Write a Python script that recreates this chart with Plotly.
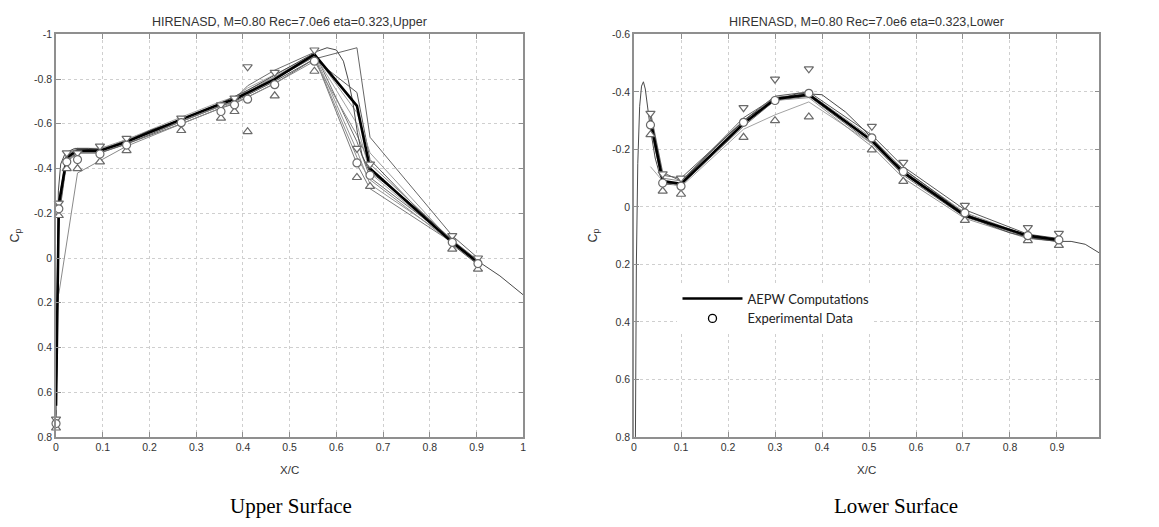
import plotly.graph_objects as go

# ---------------- Upper surface ----------------
UP_LINE_X = [0.0, 0.006, 0.023, 0.046, 0.094, 0.151, 0.268, 0.353, 0.382, 0.41, 0.468, 0.553, 0.644, 0.672, 0.848, 0.903]
UP_BLACK = [0.66, -0.24, -0.45, -0.48, -0.48, -0.52, -0.62, -0.69, -0.71, -0.74, -0.80, -0.91, -0.68, -0.40, -0.07, 0.02]
UP_G1 = [0.74, -0.20, -0.44, -0.48, -0.48, -0.52, -0.62, -0.69, -0.71, -0.74, -0.80, -0.90, -0.45, -0.35, -0.07, 0.02]
UP_G2 = [0.70, -0.22, -0.46, -0.49, -0.48, -0.53, -0.62, -0.69, -0.71, -0.77, -0.84, -0.92, -0.52, -0.36, -0.08, 0.01]
UP_G3 = [0.60, -0.25, -0.47, -0.49, -0.49, -0.53, -0.63, -0.70, -0.72, -0.76, -0.82, -0.91, -0.60, -0.38, -0.07, 0.02]
UP_G4 = [0.72, -0.18, -0.43, -0.47, -0.47, -0.51, -0.61, -0.68, -0.70, -0.73, -0.79, -0.89, -0.74, -0.44, -0.06, 0.03]
UP_G5 = [0.55, -0.26, -0.46, -0.49, -0.49, -0.52, -0.62, -0.69, -0.71, -0.75, -0.81, -0.91, -0.48, -0.33, -0.08, 0.02]
UP_G6 = [0.65, -0.21, -0.45, -0.48, -0.48, -0.52, -0.61, -0.68, -0.70, -0.74, -0.80, -0.90, -0.42, -0.31, -0.07, 0.02]
UP_G7 = [0.70, -0.20, -0.44, -0.47, -0.47, -0.51, -0.60, -0.67, -0.69, -0.72, -0.78, -0.89, -0.94, -0.54, -0.10, 0.00]
UP_G8 = [0.68, -0.23, -0.45, -0.48, -0.48, -0.52, -0.62, -0.69, -0.71, -0.74, -0.81, -0.91, -0.65, -0.47, -0.07, 0.02]

UP_LOW_X = [0.006, 0.046, 0.151, 0.268, 0.353, 0.41, 0.468, 0.553, 0.644, 0.672, 0.848, 0.903]
UP_LOW_Y = [0.16, -0.38, -0.50, -0.60, -0.67, -0.72, -0.78, -0.88, -0.55, -0.42, -0.08, 0.02]

UP_FINE_X = [0.0, 0.002, 0.005, 0.01, 0.02, 0.04, 0.07, 0.1, 0.15, 0.2, 0.27, 0.35, 0.41, 0.47, 0.53,
             0.56, 0.58, 0.60, 0.615, 0.625, 0.635, 0.645, 0.655, 0.67, 0.7, 0.75, 0.8, 0.85, 0.9, 0.95, 1.0]
UP_FINE_Y = [0.62, 0.1, -0.3, -0.42, -0.47, -0.49, -0.49, -0.485, -0.52, -0.57, -0.62, -0.69, -0.75, -0.82, -0.89,
             -0.925, -0.94, -0.93, -0.88, -0.80, -0.70, -0.56, -0.46, -0.39, -0.34, -0.26, -0.17, -0.075, 0.01, 0.08, 0.165]

EXP_UP_X = [0.0, 0.006, 0.023, 0.046, 0.094, 0.151, 0.268, 0.353, 0.382, 0.41, 0.468, 0.553, 0.644, 0.672, 0.848, 0.903]
EXP_UP_MEAN = [0.74, -0.22, -0.43, -0.44, -0.465, -0.505, -0.605, -0.655, -0.685, -0.71, -0.775, -0.88, -0.425, -0.37, -0.07, 0.025]
EXP_UP_MAX = [0.72, -0.245, -0.47, -0.47, -0.50, -0.535, -0.625, -0.685, -0.715, -0.855, -0.83, -0.93, -0.49, -0.42, -0.10, 0.0]
EXP_UP_MIN = [0.76, -0.19, -0.40, -0.40, -0.43, -0.48, -0.57, -0.625, -0.655, -0.565, -0.725, -0.835, -0.36, -0.32, -0.04, 0.05]

# ---------------- Lower surface ----------------
LO_LINE_X = [0.035, 0.061, 0.100, 0.233, 0.300, 0.372, 0.506, 0.573, 0.704, 0.838, 0.904]
LO_BLACK = [-0.30, -0.09, -0.08, -0.29, -0.375, -0.39, -0.23, -0.12, 0.03, 0.10, 0.115]
LO_G1 = [-0.32, -0.10, -0.09, -0.30, -0.38, -0.395, -0.24, -0.13, 0.02, 0.10, 0.11]
LO_G2 = [-0.28, -0.08, -0.075, -0.28, -0.37, -0.385, -0.22, -0.11, 0.035, 0.105, 0.12]
LO_G3 = [-0.14, -0.09, -0.07, -0.27, -0.32, -0.365, -0.22, -0.115, 0.03, 0.10, 0.115]
LO_G4 = [-0.31, -0.11, -0.10, -0.30, -0.385, -0.40, -0.25, -0.14, 0.01, 0.095, 0.11]
LO_G5 = [-0.29, -0.085, -0.08, -0.285, -0.37, -0.38, -0.21, -0.10, 0.04, 0.11, 0.12]
LO_G6 = [-0.30, -0.09, -0.08, -0.29, -0.375, -0.39, -0.23, -0.12, 0.025, 0.10, 0.12]
LO_G7 = [-0.33, -0.12, -0.09, -0.31, -0.38, -0.39, -0.235, -0.125, 0.025, 0.105, 0.12]

LO_FINE_X = [0.003, 0.005, 0.008, 0.012, 0.016, 0.02, 0.024, 0.029, 0.035, 0.045, 0.055, 0.07, 0.1, 0.15, 0.2,
             0.25, 0.3, 0.35, 0.4, 0.45, 0.5, 0.55, 0.6, 0.65, 0.7, 0.75, 0.8, 0.85, 0.9, 0.93, 0.96, 0.99]
LO_FINE_Y = [0.8, 0.2, -0.15, -0.35, -0.42, -0.435, -0.41, -0.35, -0.27, -0.17, -0.11, -0.08, -0.085, -0.17, -0.25,
             -0.32, -0.37, -0.395, -0.39, -0.33, -0.25, -0.16, -0.10, -0.04, 0.02, 0.06, 0.09, 0.11, 0.12, 0.12, 0.13, 0.16]

EXP_LO_X = [0.035, 0.061, 0.100, 0.233, 0.300, 0.372, 0.506, 0.573, 0.704, 0.838, 0.904]
EXP_LO_MEAN = [-0.285, -0.083, -0.072, -0.294, -0.37, -0.395, -0.24, -0.123, 0.021, 0.10, 0.115]
EXP_LO_MAX = [-0.325, -0.115, -0.10, -0.345, -0.444, -0.48, -0.28, -0.155, -0.005, 0.072, 0.092]
EXP_LO_MIN = [-0.251, -0.055, -0.044, -0.242, -0.30, -0.313, -0.198, -0.089, 0.047, 0.117, 0.134]

# Axis ticks
UP_XTICKS = [0, 0.1, 0.2, 0.3, 0.4, 0.5, 0.6, 0.7, 0.8, 0.9, 1.0]
UP_XTEXT = ["0", "0.1", "0.2", "0.3", "0.4", "0.5", "0.6", "0.7", "0.8", "0.9", "1"]
LO_XTICKS = [0, 0.1, 0.2, 0.3, 0.4, 0.5, 0.6, 0.7, 0.8, 0.9]
LO_XTEXT = ["0", "0.1", "0.2", "0.3", "0.4", "0.5", "0.6", "0.7", "0.8", "0.9"]
UP_YTICKS = [-1, -0.8, -0.6, -0.4, -0.2, 0, 0.2, 0.4, 0.6, 0.8]
UP_YTEXT = ["-1", "-0.8", "-0.6", "-0.4", "-0.2", "0", "0.2", "0.4", "0.6", "0.8"]
LO_YTICKS = [-0.6, -0.4, -0.2, 0, 0.2, 0.4, 0.6, 0.8]
LO_YTEXT = ["-0.6", "-0.4", "-0.2", "0", "0.2", "0.4", "0.6", "0.8"]

GRAYS = ["#8c8c8c", "#6f6f6f", "#a3a3a3", "#5a5a5a", "#959595", "#7a7a7a", "#666666", "#9a9a9a"]

fig = go.Figure()

def line(x, y, color, width, xa, ya, name=None, legend=False):
    fig.add_trace(go.Scatter(x=x, y=y, mode="lines", line=dict(color=color, width=width),
                             xaxis=xa, yaxis=ya, name=name, showlegend=legend, hoverinfo="skip"))

# upper computations
for i, ys in enumerate([UP_G1, UP_G2, UP_G3, UP_G4, UP_G5, UP_G6, UP_G7, UP_G8]):
    line(UP_LINE_X, ys, GRAYS[i], 1, "x", "y")
line(UP_LOW_X, UP_LOW_Y, "#8a8a8a", 1, "x", "y")
line(UP_FINE_X, UP_FINE_Y, "#4a4a4a", 1, "x", "y")
line(UP_LINE_X, UP_BLACK, "black", 2.6, "x", "y")

# lower computations
for i, ys in enumerate([LO_G1, LO_G2, LO_G3, LO_G4, LO_G5, LO_G6, LO_G7]):
    line(LO_LINE_X, ys, GRAYS[i], 1, "x2", "y2")
line(LO_FINE_X, LO_FINE_Y, "#4a4a4a", 1, "x2", "y2")
line(LO_LINE_X, LO_BLACK, "black", 2.6, "x2", "y2", name="AEPW Computations", legend=True)

MK = "#6a6a6a"

def markers(x, y, symbol, xa, ya, name=None, legend=False):
    fig.add_trace(go.Scatter(x=x, y=y, mode="markers", cliponaxis=False,
                             marker=dict(symbol=symbol, size=8, color="white",
                                         line=dict(color=MK, width=1.2)),
                             xaxis=xa, yaxis=ya, name=name, showlegend=legend, hoverinfo="skip"))

markers(EXP_UP_X, EXP_UP_MAX, "triangle-down", "x", "y")
markers(EXP_UP_X, EXP_UP_MIN, "triangle-up", "x", "y")
markers(EXP_UP_X, EXP_UP_MEAN, "circle", "x", "y")
markers(EXP_LO_X, EXP_LO_MAX, "triangle-down", "x2", "y2")
markers(EXP_LO_X, EXP_LO_MIN, "triangle-up", "x2", "y2")
markers(EXP_LO_X, EXP_LO_MEAN, "circle", "x2", "y2")

# legend-only experimental entry (black open circle)
fig.add_trace(go.Scatter(x=[None], y=[None], mode="markers", xaxis="x2", yaxis="y2",
                         marker=dict(symbol="circle-open", size=8, color="black", line=dict(width=1.3)),
                         name="Experimental Data", showlegend=True))

W, H = 1159, 527
AX_COLOR = "#8f8f8f"
TICK_FONT = dict(family="Liberation Sans, Arial, sans-serif", size=10.5, color="#333333")

def xaxis(dom, vals, text, rng, anchor):
    return dict(domain=dom, range=rng, tickmode="array", tickvals=vals, ticktext=text,
                showgrid=True, gridcolor="#cfcfcf", griddash="dot", gridwidth=1,
                showline=True, linecolor=AX_COLOR, linewidth=1.5, mirror="ticks",
                ticks="inside", ticklen=5, tickcolor=AX_COLOR, tickfont=TICK_FONT,
                zeroline=False, anchor=anchor,
                title=dict(text="X/C", font=dict(family="Liberation Sans, Arial, sans-serif", size=11.5, color="#333333"),
                           standoff=14))

def yaxis(dom, vals, text, rng, anchor):
    return dict(domain=dom, range=rng, tickmode="array", tickvals=vals, ticktext=text,
                showgrid=True, gridcolor="#cfcfcf", griddash="dot", gridwidth=1,
                showline=True, linecolor=AX_COLOR, linewidth=1.5, mirror="ticks",
                ticks="inside", ticklen=5, tickcolor=AX_COLOR, tickfont=TICK_FONT,
                zeroline=False, anchor=anchor,
                title=dict(text="C<sub>p</sub>", font=dict(family="Liberation Sans, Arial, sans-serif", size=12.5, color="#333333"),
                           standoff=12))

ydom = [86 / H, 498 / H]
fig.update_layout(
    width=W, height=H, margin=dict(l=0, r=0, t=0, b=0),
    paper_bgcolor="white", plot_bgcolor="white",
    xaxis=xaxis([53.3 / W, 523 / W], UP_XTICKS, UP_XTEXT, [0, 1], "y"),
    yaxis=yaxis(ydom, UP_YTICKS, UP_YTEXT, [0.8, -1], "x"),
    xaxis2=xaxis([634.3 / W, 1102 / W], LO_XTICKS, LO_XTEXT, [0, 0.99], "y2"),
    yaxis2=yaxis(ydom, LO_YTICKS, LO_YTEXT, [0.8, -0.6], "x2"),
    showlegend=True,
    legend=dict(x=678 / W, y=1 - 284 / H, xanchor="left", yanchor="top",
                bgcolor="white", borderwidth=0, itemwidth=60, tracegroupgap=0,
                font=dict(family="Lato, Carlito, sans-serif", size=13, color="#222222")),
    annotations=[
        dict(text="HIRENASD, M=0.80 Rec=7.0e6 eta=0.323,Upper", x=288 / W, y=1 - 16 / H,
             xref="paper", yref="paper", showarrow=False, xanchor="center", yanchor="middle",
             font=dict(family="Liberation Sans, Arial, sans-serif", size=12.5, color="#333333")),
        dict(text="HIRENASD, M=0.80 Rec=7.0e6 eta=0.323,Lower", x=868 / W, y=1 - 16 / H,
             xref="paper", yref="paper", showarrow=False, xanchor="center", yanchor="middle",
             font=dict(family="Liberation Sans, Arial, sans-serif", size=12.5, color="#333333")),
        dict(text="Upper Surface", x=290 / W, y=1 - 512 / H,
             xref="paper", yref="paper", showarrow=False, xanchor="center", yanchor="middle",
             font=dict(family="Liberation Serif, Times New Roman, serif", size=21, color="black")),
        dict(text="Lower Surface", x=898 / W, y=1 - 512 / H,
             xref="paper", yref="paper", showarrow=False, xanchor="center", yanchor="middle",
             font=dict(family="Liberation Serif, Times New Roman, serif", size=21, color="black")),
    ],
)

fig.write_html("out.html")
